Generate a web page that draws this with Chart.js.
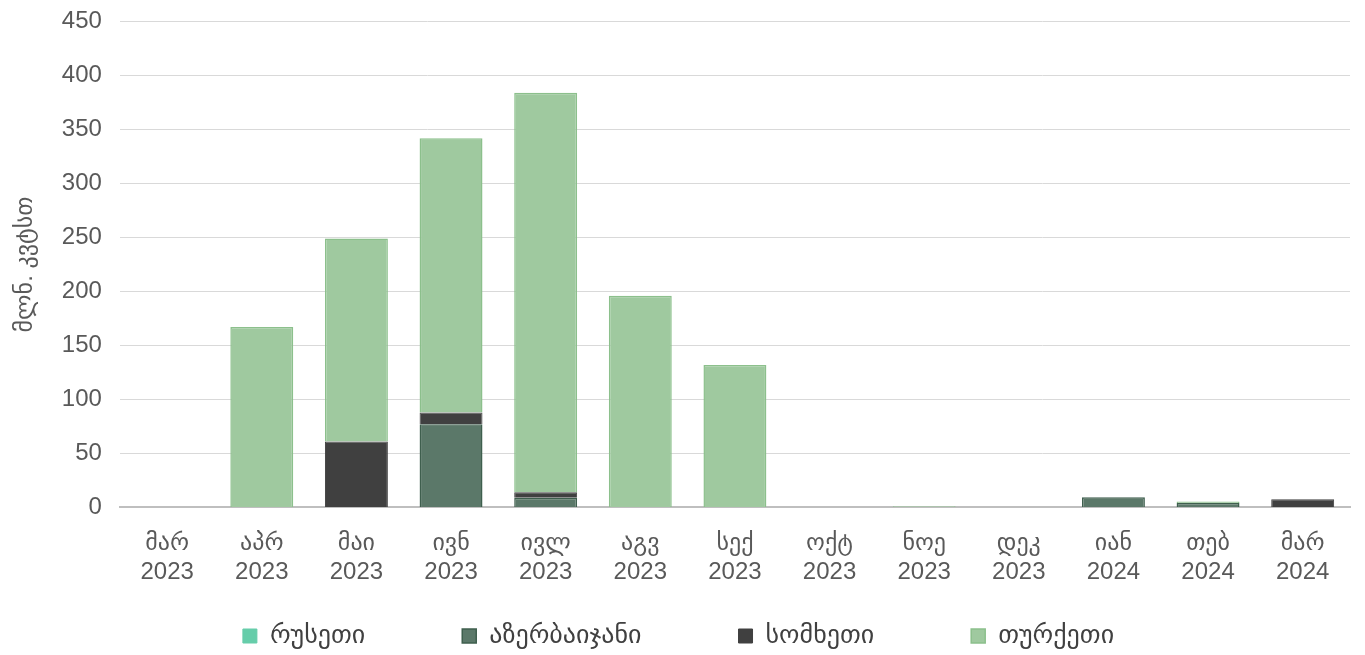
<!DOCTYPE html>
<html>
<head>
<meta charset="utf-8">
<script src="https://cdn.jsdelivr.net/npm/chart.js@4"></script>
<style>
  html, body { margin: 0; padding: 0; background: #fff; }
  .wrap { width: 1365px; height: 655px; position: relative; }
</style>
</head>
<body>
<div class="wrap"><canvas id="importChart"></canvas></div>
<script>
const months = [
  ["მარ", "2023"], ["აპრ", "2023"], ["მაი", "2023"], ["ივნ", "2023"], ["ივლ", "2023"],
  ["აგვ", "2023"], ["სექ", "2023"], ["ოქტ", "2023"], ["ნოე", "2023"], ["დეკ", "2023"],
  ["იან", "2024"], ["თებ", "2024"], ["მარ", "2024"]
];

const russia     = [0, 0, 0, 0, 0, 0, 0, 0, 0, 0, 0, 0, 0];
const azerbaijan = [0, 0, 0, 77, 9, 0, 0, 0, 0, 0, 9.5, 4, 0];
const armenia    = [0, 0, 61, 11, 5, 0, 0, 0, 0, 0, 0, 0, 7.5];
const turkey     = [0, 167, 188, 254, 370, 196, 132, 0, 1, 0, 0, 1.5, 0];

const FONT = "'Liberation Sans', Arial, 'DejaVu Sans', sans-serif";

// legend sits low with wide gaps between items, so squeeze its box
// and move it back down after layout
const legendSpacing = {
  id: "legendSpacing",
  beforeInit(chart) {
    const legend = chart.legend;
    const fit = legend.fit;
    legend.fit = function () {
      fit.call(this);
      this.height = 54;
    };
  },
  afterLayout(chart) {
    const legend = chart.legend;
    const pad = legend.options.labels.padding;
    legend.top = 623 - pad;
  }
};

document.addEventListener("DOMContentLoaded", () => {
  const ctx = document.getElementById("importChart").getContext("2d");

  new Chart(ctx, {
    type: "bar",
    data: {
      labels: months,
      datasets: [
        { label: "რუსეთი", data: russia, backgroundColor: "#66cdaa", borderColor: "#66cdaa", borderWidth: 1 },
        { label: "აზერბაიჯანი", data: azerbaijan, backgroundColor: "#5b7869", borderColor: "#3f5f4e", borderWidth: 1.5 },
        { label: "სომხეთი", data: armenia, backgroundColor: "#404040", borderColor: "#404040", borderWidth: 1 },
        { label: "თურქეთი", data: turkey, backgroundColor: "#9fc99f", borderColor: "#8cc08c", borderWidth: 1.5 }
      ]
    },
    plugins: [legendSpacing],
    options: {
      responsive: true,
      maintainAspectRatio: false,
      animation: false,
      datasets: { bar: { categoryPercentage: 1, barPercentage: 0.665 } },
      layout: { padding: { left: 7, right: 15, top: 0, bottom: 0 } },
      plugins: {
        legend: {
          position: "bottom",
          labels: {
            color: "#404040",
            boxWidth: 14,
            boxHeight: 14,
            padding: 97,
            font: { family: FONT, size: 26 }
          }
        },
        tooltip: { enabled: false }
      },
      scales: {
        x: {
          stacked: true,
          grid: { display: false },
          border: { color: "#bfbfbf", width: 2 },
          ticks: {
            color: "#595959",
            maxRotation: 0,
            autoSkip: false,
            padding: 14,
            font: { family: FONT, size: 24 }
          }
        },
        y: {
          stacked: true,
          min: 0,
          max: 450,
          ticks: {
            stepSize: 50,
            color: "#595959",
            padding: 18,
            font: { family: FONT, size: 24, lineHeight: 0.3 }
          },
          grid: { color: "#d9d9d9", drawTicks: false },
          border: { display: false },
          title: {
            display: true,
            text: "მლნ. კვტსთ",
            color: "#595959",
            font: { family: FONT, size: 24 }
          }
        }
      }
    }
  });
});
</script>
</body>
</html>
